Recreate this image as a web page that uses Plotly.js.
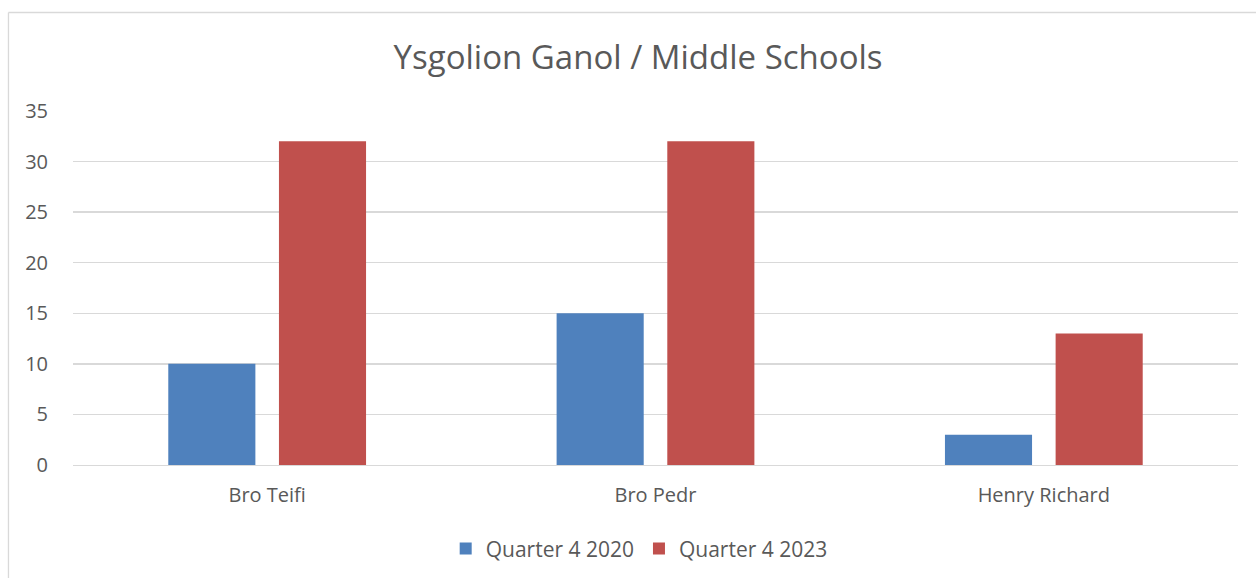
<!DOCTYPE html>
<html><head><meta charset="utf-8">
<script src="https://cdn.plot.ly/plotly-3.0.1.min.js"></script>
<style>html,body{margin:0;padding:0;background:#fff}#chart{width:1256px;height:578px}</style>
</head><body><div id="chart"></div>
<script>
const categories = ["Bro Teifi", "Bro Pedr", "Henry Richard"];
const q4_2020 = [10, 15, 3];
const q4_2023 = [32, 32, 13];
const seriesNames = ["Quarter 4 2020", "Quarter 4 2023"];
const yTicks = [0, 5, 10, 15, 20, 25, 30, 35];

const txt = '#595959';
const font = "'Open Sans', sans-serif";
const data = [
  {type:'bar', name:seriesNames[0], x:categories, y:q4_2020, marker:{color:'#4f81bd'}, hoverinfo:'none'},
  {type:'bar', name:seriesNames[1], x:categories, y:q4_2023, marker:{color:'#c0504d'}, hoverinfo:'none'}
];
const layout = {
  width:1256, height:578, autosize:false,
  margin:{l:73, r:18, t:111, b:113, autoexpand:false},
  paper_bgcolor:'#fff', plot_bgcolor:'#fff',
  font:{family:font, color:txt, size:20},
  title:{text:'Ysgolion Ganol / Middle Schools', font:{family:font, size:33, color:txt}, x:0.508, xanchor:'center', y:0.9, yanchor:'middle', yref:'container'},
  barmode:'group', bargap:0.43, bargroupgap:0.213,
  xaxis:{type:'category', automargin:false, showgrid:false, zeroline:false, showline:true, linecolor:'#d9d9d9', linewidth:1.3, ticks:'', ticklabelstandoff:12, tickfont:{size:20, color:txt}},
  yaxis:{range:[0,35], automargin:false, tickvals:yTicks, showgrid:true, gridcolor:'#d9d9d9', gridwidth:1.3, zeroline:false, showline:false, ticks:'', ticklabelstandoff:24, tickfont:{size:20, color:txt}},
  legend:{orientation:'h', x:0.486, xanchor:'center', y:-0.237, yanchor:'middle', font:{size:21, color:txt}, itemwidth:20, traceorder:'normal'},
  showlegend:true,
  shapes:[
    {type:'line', xref:'paper', yref:'paper', x0:-0.0554, x1:-0.0554, y0:1.2782, y1:-0.4, line:{color:'#d9d9d9', width:1.3}},
    {type:'line', xref:'paper', yref:'paper', x0:-0.0554, x1:1.02, y0:1.2782, y1:1.2782, line:{color:'#d9d9d9', width:1.3}}
  ]
};
Plotly.newPlot('chart', data, layout, {displayModeBar:false, staticPlot:true});
</script></body></html>
